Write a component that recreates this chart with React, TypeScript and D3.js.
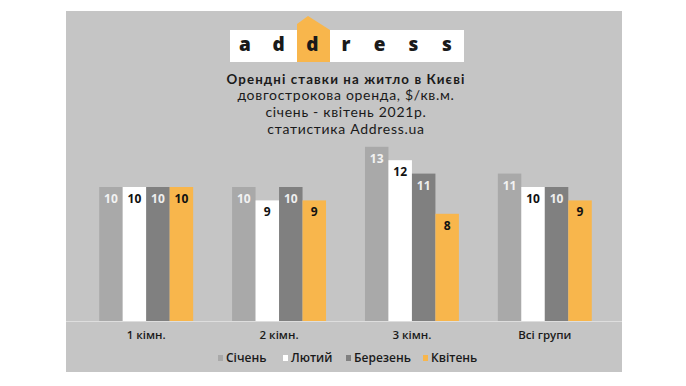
import React from 'react';
import * as d3 from 'd3';

const categories = ['1 кімн.', '2 кімн.', '3 кімн.', 'Всі групи'];
const seriesNames = ['Січень', 'Лютий', 'Березень', 'Квітень'];
const january = [10, 10, 13, 11];
const february = [10, 9, 12, 10];
const march = [10, 10, 11, 10];
const april = [10, 9, 8, 9];
const titleLines = ['довгострокова оренда, $/кв.м.', 'січень - квітень 2021р.', 'статистика Address.ua'];
const logoLetters = ['a', 'd', 'd', 'r', 'e', 's', 's'];

const seriesValues = [january, february, march, april];
const colors = ['#a9a9a9', '#ffffff', '#808080', '#f8b64c'];
const labelColors = ['#f2f2f2', '#111111', '#eeeeee', '#111111'];

const App = () => {
  const width = 686;
  const height = 386;
  const panel = { x: 66, y: 11, w: 556, h: 361 };
  const font = '"Open Sans", "Noto Sans", sans-serif';
  const titleFont = 'Lato, "Open Sans", sans-serif';

  const xScale = d3.scaleBand()
    .domain(categories)
    .range([66, 625])
    .paddingInner(0.293)
    .paddingOuter(0.25);

  const innerScale = d3.scaleBand()
    .domain(seriesNames)
    .range([0, xScale.bandwidth()]);

  const yScale = d3.scaleLinear()
    .domain([0, 10])
    .range([321, 187]);

  const logoScale = d3.scalePoint()
    .domain(d3.range(logoLetters.length).map(String))
    .range([245, 447]);

  // legend positions (square x)
  const legendX = d3.scaleOrdinal<string, number>()
    .domain(seriesNames)
    .range([218, 283, 346, 423]);

  const cx = 346;

  return (
    <svg width={width} height={height} style={{ position: 'absolute', left: 0, top: 0 }}>
      <rect x={0} y={0} width={width} height={height} fill='#ffffff' />
      <rect x={panel.x} y={panel.y} width={panel.w} height={panel.h} fill='#c5c5c5' />

      {/* logo */}
      <rect x={230} y={30} width={234} height={32} fill='#ffffff' />
      <polygon points='297,62 297,24 308,16 330,30 330,62' fill='#f8b64c' />
      {logoLetters.map((l, i) =>
        <text key={`logo-${i}`} x={logoScale(String(i))} y={51} textAnchor='middle'
          fontFamily={font} fontWeight={800} fontSize={19} fill='#1a1a1a'>{l}</text>
      )}

      <text x={cx} y={84} textAnchor='middle' fontFamily={titleFont} fontWeight={700} fontSize={13.3}
        letterSpacing={1.1} fill='#1a1a1a'>
        Орендні ставки на житло в Києві
      </text>
      {titleLines.map((t, i) =>
        <text key={`t-${i}`} x={cx} y={100 + i * 17} textAnchor='middle' fontFamily={titleFont}
          fontSize={14} letterSpacing={0.7} fill='#1a1a1a'>{t}</text>
      )}

      {categories.map((c, ci) =>
        <g key={`cat-${ci}`} transform={`translate(${xScale(c)},0)`}>
          {seriesNames.map((s, si) => {
            const v = seriesValues[si][ci];
            const x = innerScale(s) as number;
            const w = innerScale.bandwidth();
            return (
              <g key={`bar-${si}`}>
                <rect x={x} y={yScale(v)} width={w} height={yScale(0) - yScale(v)} fill={colors[si]} />
                <text x={x + w / 2} y={yScale(v) + 16} textAnchor='middle' fontFamily={font}
                  fontWeight={700} fontSize={12} fill={labelColors[si]}>{v}</text>
              </g>
            );
          })}
          <text x={xScale.bandwidth() / 2} y={339} textAnchor='middle' fontFamily={font}
            fontWeight={600} fontSize={11.5} fill='#1a1a1a'>{c}</text>
        </g>
      )}

      <line x1={panel.x} x2={panel.x + panel.w} y1={321.5} y2={321.5} stroke='#dedede' strokeWidth={1} />

      {seriesNames.map((s, si) =>
        <g key={`leg-${si}`}>
          <rect x={legendX(s)} y={355} width={5} height={6} fill={colors[si]} />
          <text x={legendX(s) + 8} y={362} fontFamily={font} fontWeight={600} fontSize={12} fill='#1a1a1a'>{s}</text>
        </g>
      )}
    </svg>
  );
};

export default App;
